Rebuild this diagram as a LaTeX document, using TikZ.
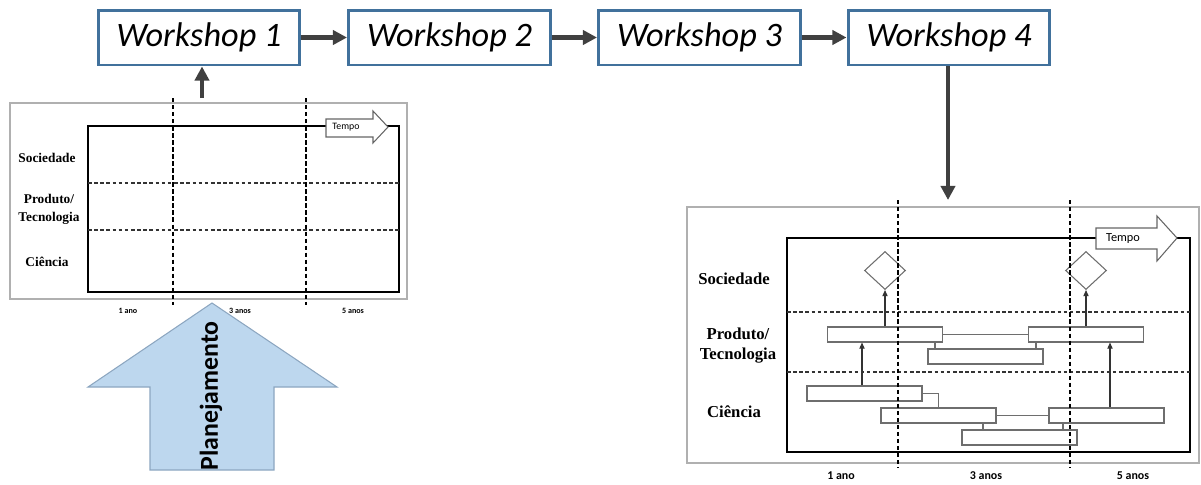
\documentclass[tikz,border=0pt]{standalone}
\usepackage{fontspec}
\setmainfont{Liberation Serif}
\newfontfamily\calfont{Carlito}
\usetikzlibrary{arrows.meta,shapes.geometric,calc}

\definecolor{wsblue}{HTML}{41719C}
\definecolor{darkarrow}{HTML}{404040}
\definecolor{planfill}{HTML}{BDD7EE}
\definecolor{planedge}{HTML}{8CA6C0}
\definecolor{framegray}{HTML}{B0B0B0}
\definecolor{bargray}{HTML}{6E6E6E}

\tikzset{
  workshop/.style={draw=wsblue, line width=1.7pt, fill=white, rectangle,
    minimum width=4.04cm, minimum height=1.1cm, inner sep=0pt,
    font=\calfont\itshape\fontsize{19.5}{22}\selectfont},
  flow/.style={draw=darkarrow, line width=2.8pt,
    -{Triangle[length=8pt,width=8pt]}},
  outerframe/.style={draw=framegray, line width=0.6pt, fill=white},
  chartbox/.style={draw=black, line width=1pt},
  rowline/.style={draw=black!80, line width=0.6pt, dash pattern=on 2pt off 1.5pt},
  yearline/.style={draw=black, line width=0.6pt, dash pattern=on 2.5pt off 1.5pt},
  rowlabelS/.style={font=\bfseries\fontsize{7.6}{10.2}\selectfont, align=center},
  rowlabelL/.style={font=\bfseries\fontsize{9.5}{11.9}\selectfont, align=center},
  yearS/.style={font=\calfont\bfseries\fontsize{4.6}{5}\selectfont},
  yearL/.style={font=\calfont\bfseries\fontsize{6.8}{8}\selectfont},
  tempoarrow/.style={draw=black!60, line width=0.6pt, fill=white},
  bar/.style={draw=bargray, line width=0.6pt, fill=white, rectangle,
    minimum width=2.3cm, minimum height=0.3cm, inner sep=0pt},
  milestone/.style={draw=bargray, line width=0.6pt, fill=white, diamond,
    minimum width=0.82cm, minimum height=0.76cm, inner sep=0pt},
  link/.style={draw=bargray, line width=0.6pt},
  push/.style={draw=black!80, line width=0.6pt,
    -{Triangle[length=3.5pt,width=3pt]}},
}

\begin{document}
\begin{tikzpicture}[x=0.02cm, y=-0.02cm]
\useasboundingbox (0,0) rectangle (1201,484);

% ---------- workshop chain ----------
\node[workshop] (w1) at (199,37.5) {Workshop 1};
\node[workshop] (w2) at (449.5,37.5) {Workshop 2};
\node[workshop] (w3) at (699.5,37.5) {Workshop 3};
\node[workshop] (w4) at (949,37.5) {Workshop 4};
\draw[flow] (w1) -- (w2);
\draw[flow] (w2) -- (w3);
\draw[flow] (w3) -- (w4);

% ---------- empty roadmap (planning) ----------
\draw[outerframe] (10,103) rectangle (407,299);
\draw[chartbox] (88,126) rectangle (399,292);
\draw[rowline] (88,183) -- (399,183);
\draw[rowline] (88,230) -- (399,230);
\draw[tempoarrow] (326,119) -- (373,119) -- (373,111) -- (388,127)
  -- (373,143) -- (373,137) -- (326,137) -- cycle;
\node[font=\calfont\fontsize{5.6}{6}\selectfont] (tempoS) at (346,127) {Tempo};
\node[rowlabelS] (socS) at (47,158) {Sociedade};
\node[rowlabelS] (prodS) at (49,209) {Produto/\\Tecnologia};
\node[rowlabelS] (cieS) at (47,262) {Ciência};

% planning arrow feeding the first workshop
\draw[fill=planfill, draw=planedge, line width=0.6pt]
  (212,303) -- (337,387) -- (274,387) -- (274,470) -- (150,470)
  -- (150,387) -- (88,387) -- cycle;
\node[rotate=90, font=\calfont\bfseries\fontsize{14.7}{16}\selectfont]
  (plan) at (211,396) {Planejamento};

\node[yearS] (y1S) at (128,311) {1 ano};
\node[yearS] (y3S) at (240,311) {3 anos};
\node[yearS] (y5S) at (353,311) {5 anos};
\draw[yearline] (173,98) -- (173,305);
\draw[yearline] (306,98) -- (306,305);

\coordinate (feed) at (202,98);
\draw[flow] (feed) -- (feed |- w1.south);

% ---------- filled roadmap ----------
\coordinate (drop) at (948,200);
\draw[flow] (w4.south -| drop) -- (drop);

\draw[outerframe] (687,207) rectangle (1199,463);
\draw[chartbox] (787,238) rectangle (1190,452);
\draw[rowline] (787,312) -- (1190,312);
\draw[rowline] (787,372) -- (1190,372);
\draw[tempoarrow] (1096,228) -- (1157,228) -- (1157,216) -- (1177,238)
  -- (1157,261) -- (1157,249) -- (1096,249) -- cycle;
\node[font=\calfont\fontsize{7}{8}\selectfont] (tempoL) at (1123,239) {Tempo};

\node[rowlabelL] (socL) at (734,279) {Sociedade};
\node[rowlabelL] (prodL) at (738,345.5) {Produto/\\Tecnologia};
\node[rowlabelL] (cieL) at (734,412) {Ciência};

% milestones
\node[milestone] (d1) at (885,270.5) {};
\node[milestone] (d2) at (1086,270.5) {};

% product / technology bars
\node[bar] (p1) at (885,334.5) {};
\node[bar] (p2) at (1086,334.5) {};
\node[bar] (p3) at (985.5,356.5) {};

% science bars
\node[bar] (c1) at (864.5,393.5) {};
\node[bar] (c2) at (938.5,415.5) {};
\node[bar] (c3) at (1106.5,415.5) {};
\node[bar] (c4) at (1019.5,437.5) {};

% links between bars
\draw[link] (p1.east) -- (p2.west);
\draw[link] ([xshift=1cm]p1.south) -- ([xshift=1cm]p1.south |- p3.north);
\draw[link] ([xshift=-1cm]p2.south) -- ([xshift=-1cm]p2.south |- p3.north);
\draw[link] (c1.east) -| (c2.north);
\draw[link] (c2.east) -- (c3.west);
\draw[link] ([xshift=0.89cm]c2.south) -- ([xshift=0.89cm]c2.south |- c4.north);
\draw[link] ([xshift=-0.87cm]c3.south) -- ([xshift=-0.87cm]c3.south |- c4.north);

% upward dependencies
\draw[push] ([xshift=-0.05cm]c1.north) -- ([xshift=-0.05cm]c1.north |- p1.south);
\draw[push] (p1.north) -- (d1.south);
\draw[push] ([xshift=0.07cm]c3.north) -- ([xshift=0.07cm]c3.north |- p2.south);
\draw[push] (p2.north) -- (d2.south);

\node[yearL] (y1L) at (841,476) {1 ano};
\node[yearL] (y3L) at (986,476) {3 anos};
\node[yearL] (y5L) at (1133,476) {5 anos};
\draw[yearline] (898,200) -- (898,468);
\draw[yearline] (1070,200) -- (1070,468);
\end{tikzpicture}
\end{document}
